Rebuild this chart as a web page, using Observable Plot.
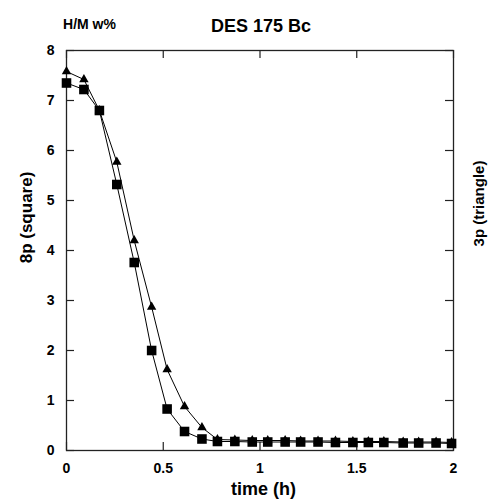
<!DOCTYPE html>
<html>
<head>
<meta charset="utf-8">
<script src="https://cdn.jsdelivr.net/npm/d3@7"></script>
<script src="https://cdn.jsdelivr.net/npm/@observablehq/plot@0.6"></script>
<style>
  html, body { margin: 0; padding: 0; background: #fff; }
</style>
</head>
<body>
<div id="chart"></div>
<script>
// Data
const timeH = [0, 0.09, 0.17, 0.26, 0.35, 0.44, 0.52, 0.61, 0.70, 0.78, 0.87, 0.96, 1.04, 1.13, 1.21, 1.30, 1.39, 1.48, 1.56, 1.64, 1.74, 1.82, 1.91, 1.99];
const square8p = [7.35, 7.22, 6.80, 5.32, 3.76, 2.00, 0.83, 0.38, 0.23, 0.18, 0.18, 0.17, 0.17, 0.17, 0.17, 0.17, 0.16, 0.16, 0.16, 0.16, 0.15, 0.15, 0.15, 0.14];
const triangle3p = [7.58, 7.42, 6.80, 5.77, 4.20, 2.87, 1.62, 0.88, 0.46, 0.22, 0.21, 0.20, 0.20, 0.20, 0.19, 0.19, 0.19, 0.18, 0.18, 0.18, 0.17, 0.17, 0.17, 0.16];
const xTicks = [0, 0.5, 1, 1.5, 2];
const yTicks = [0, 1, 2, 3, 4, 5, 6, 7, 8];
const titleText = "DES 175 Bc";
const unitText = "H/M w%";
const xLabel = "time (h)";
const yLabelLeft = "8p (square)";
const yLabelRight = "3p (triangle)";

const sq = timeH.map((t, i) => ({t, v: square8p[i]}));
const tr = timeH.map((t, i) => ({t, v: triangle3p[i]}));

const W = 488, H = 501;
const mL = 66, mR = 35, mT = 50, mB = 51;
const pW = W - mL - mR, pH = H - mT - mB;
const tick = 8;
const font = "'Liberation Sans', Arial, Helvetica, sans-serif";

const chart = Plot.plot({
  width: W,
  height: H,
  marginLeft: mL,
  marginRight: mR,
  marginTop: mT,
  marginBottom: mB,
  style: {fontFamily: font, fontWeight: "bold", color: "#000", background: "#fff", overflow: "visible"},
  x: {domain: [0, 2], axis: null},
  y: {domain: [0, 8], axis: null},
  marks: [
    Plot.frame({stroke: "#222", strokeWidth: 1.3}),
    // inward ticks
    Plot.ruleX(xTicks, {x: d => d, insetTop: pH - tick, stroke: "#222", strokeWidth: 1.2}),
    Plot.ruleX(xTicks, {x: d => d, insetBottom: pH - tick, stroke: "#222", strokeWidth: 1.2}),
    Plot.ruleY(yTicks, {y: d => d, insetRight: pW - tick, stroke: "#222", strokeWidth: 1.2}),
    Plot.ruleY(yTicks, {y: d => d, insetLeft: pW - tick, stroke: "#222", strokeWidth: 1.2}),
    // tick labels
    Plot.axisX(xTicks, {anchor: "bottom", tickSize: 0, tickPadding: 13, fontSize: 14, fontWeight: "bold", tickFormat: d => String(d), label: null}),
    Plot.axisY(yTicks, {anchor: "left", tickSize: 0, tickPadding: 12, fontSize: 14, fontWeight: "bold", tickFormat: d => String(d), label: null}),
    // series
    Plot.line(tr, {x: "t", y: "v", stroke: "#000", strokeWidth: 1}),
    Plot.line(sq, {x: "t", y: "v", stroke: "#000", strokeWidth: 1}),
    Plot.dot(tr, {x: "t", y: "v", symbol: "triangle", r: 3.5, fill: "#000", stroke: "none"}),
    Plot.dot(sq, {x: "t", y: "v", symbol: "square", r: 5.4, fill: "#000", stroke: "none"}),
    // titles
    Plot.text([titleText], {frameAnchor: "top", text: d => d, dx: 1, dy: -24, lineAnchor: "middle", fontSize: 18, fontWeight: "bold"}),
    Plot.text([unitText], {frameAnchor: "top-left", text: d => d, dx: 23, dy: -26, textAnchor: "middle", lineAnchor: "middle", fontSize: 14, fontWeight: "bold"}),
    Plot.text([xLabel], {frameAnchor: "bottom", text: d => d, dx: 3.5, dy: 39, lineAnchor: "middle", fontSize: 18, fontWeight: "bold"}),
    Plot.text([yLabelLeft], {frameAnchor: "left", text: d => d, dx: -40, dy: -33, rotate: -90, textAnchor: "middle", lineAnchor: "middle", fontSize: 17, fontWeight: "bold"}),
    Plot.text([yLabelRight], {frameAnchor: "right", text: d => d, dx: 26, dy: -47, rotate: -90, textAnchor: "middle", lineAnchor: "middle", fontSize: 15, fontWeight: "bold"})
  ]
});
document.getElementById("chart").appendChild(chart);
</script>
</body>
</html>
